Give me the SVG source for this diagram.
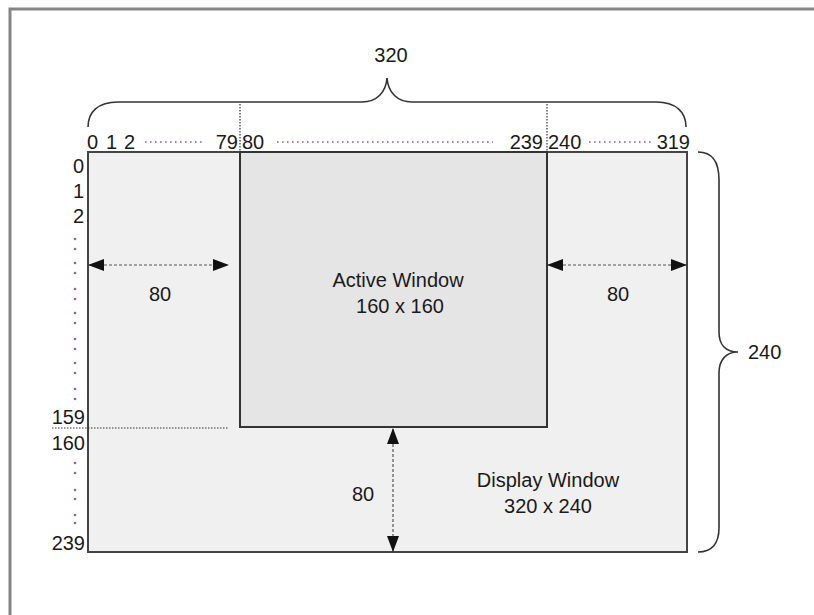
<svg xmlns="http://www.w3.org/2000/svg" width="814" height="615" viewBox="0 0 814 615">
<style>
text{font-family:"Liberation Sans",Arial,sans-serif;font-size:20px;fill:#1a1a1a}
.c{text-anchor:middle}
.r{text-anchor:end}
.brace{fill:none;stroke:#333;stroke-width:1.6}
.dots{stroke:#8a64a8;stroke-width:1.6;stroke-dasharray:1.6 3.4;fill:none}
.guide{stroke:#333;stroke-width:1.2;stroke-dasharray:1.5 1.5;fill:none}
.dim{stroke:#555;stroke-width:1.2;stroke-dasharray:3 2;fill:none}
.cd{fill:#9a5ab0}
</style>
<defs>
<marker id="ah" viewBox="0 0 16 12" refX="15" refY="6" markerWidth="16" markerHeight="12" markerUnits="userSpaceOnUse" orient="auto-start-reverse">
<path d="M0,0 L16,6 L0,12 Z" fill="#111"/>
</marker>
</defs>
<rect x="10" y="9" width="900" height="700" fill="#fff" stroke="#858585" stroke-width="3"/>
<g id="display-window">
<rect x="88" y="152" width="599" height="400" fill="#f0f0f0" stroke="#444" stroke-width="2"/>
<text class="c" x="548" y="487">Display Window</text>
<text class="c" x="548" y="513">320 x 240</text>
</g>
<g id="active-window">
<rect x="240" y="152" width="307" height="275" fill="#e5e5e5" stroke="#333" stroke-width="2"/>
<text class="c" x="398" y="287">Active Window</text>
<text class="c" x="400" y="313">160 x 160</text>
</g>
<g id="top-scale">
<path class="brace" d="M88,127 C88,112 98,102 118,102 L362,102 C377,102 386,92 387,78 C388,92 397,102 412,102 L656,102 C676,102 686,112 686,127"/>
<text class="c" x="391" y="62">320</text>
<text x="87" y="149">0</text>
<text x="106" y="149">1</text>
<text x="124" y="149">2</text>
<line class="dots" x1="145" y1="142" x2="205" y2="142"/>
<text class="r" x="238" y="149">79</text>
<text x="242" y="149">80</text>
<line class="dots" x1="277" y1="142" x2="493" y2="142"/>
<text class="r" x="543" y="149">239</text>
<text x="548" y="149">240</text>
<line class="dots" x1="589" y1="142" x2="654" y2="142"/>
<text class="r" x="690" y="149">319</text>
</g>
<g id="left-scale">
<text class="r" x="84" y="173">0</text>
<text class="r" x="84" y="198">1</text>
<text class="r" x="84" y="223">2</text>
<g class="cd">
<circle cx="75" cy="239" r="1.3"/><circle cx="75" cy="249" r="1.3"/>
<circle cx="75" cy="263" r="1.3"/><circle cx="75" cy="273" r="1.3"/>
<circle cx="75" cy="289" r="1.3"/><circle cx="75" cy="299" r="1.3"/>
<circle cx="75" cy="313" r="1.3"/><circle cx="75" cy="323" r="1.3"/>
<circle cx="75" cy="339" r="1.3"/><circle cx="75" cy="349" r="1.3"/>
<circle cx="75" cy="363" r="1.3"/><circle cx="75" cy="373" r="1.3"/>
<circle cx="75" cy="389" r="1.3"/><circle cx="75" cy="399" r="1.3"/>
<circle cx="75" cy="463" r="1.3"/><circle cx="75" cy="473" r="1.3"/>
<circle cx="75" cy="490" r="1.3"/><circle cx="75" cy="499" r="1.3"/>
<circle cx="75" cy="515" r="1.3"/><circle cx="75" cy="523" r="1.3"/>
</g>
<text class="r" x="85" y="424">159</text>
<text class="r" x="85" y="450">160</text>
<text class="r" x="85" y="550">239</text>
</g>
<g id="right-scale">
<path class="brace" d="M698,152 C712,152 719,162 719,180 L719,332 C719,345 726,352 738,352 C726,352 719,360 719,373 L719,528 C719,543 712,552 698,552"/>
<text x="748" y="359">240</text>
</g>
<g id="connectors">
<line class="guide" x1="240" y1="104" x2="240" y2="152"/>
<line class="guide" x1="547" y1="104" x2="547" y2="152"/>
<line class="guide" x1="52" y1="428" x2="229" y2="428"/>
<line class="dim" x1="89" y1="265" x2="228" y2="265" marker-start="url(#ah)" marker-end="url(#ah)"/>
<line class="dim" x1="548" y1="265" x2="686" y2="265" marker-start="url(#ah)" marker-end="url(#ah)"/>
<line class="dim" x1="393" y1="429" x2="393" y2="551" marker-start="url(#ah)" marker-end="url(#ah)"/>
<text class="c" x="160" y="301">80</text>
<text class="c" x="618" y="301">80</text>
<text class="c" x="363" y="501">80</text>
</g>
</svg>
